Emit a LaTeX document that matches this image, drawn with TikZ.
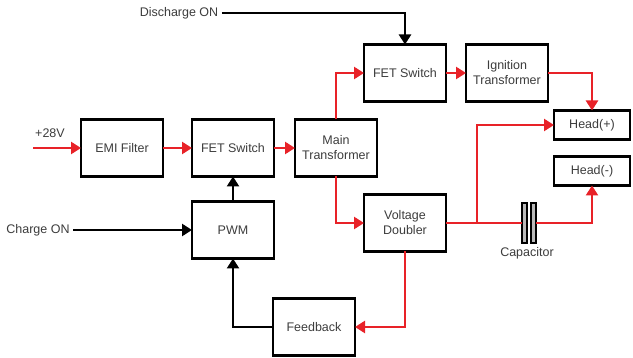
\documentclass[tikz,border=0pt]{standalone}
\usepackage{fontspec}
\setmainfont{Liberation Sans}
\usetikzlibrary{arrows.meta, positioning}
\definecolor{wirered}{RGB}{232,34,40}
\definecolor{labelgray}{RGB}{60,60,60}

\begin{document}
\begin{tikzpicture}[x=1pt, y=1pt,
    block/.style={draw, line width=2.6pt, minimum width=82pt, minimum height=57pt, outer sep=0pt, align=center, font=\fontsize{12.5}{15}\selectfont, text=labelgray},
    headbox/.style={draw, line width=2.6pt, minimum width=76pt, minimum height=29pt, outer sep=0pt, font=\fontsize{12.5}{15}\selectfont, text=labelgray},
    plate/.style={draw, line width=1.4pt, fill=gray!55, minimum width=5pt, minimum height=40pt, inner sep=0pt, outer sep=0pt},
    lbl/.style={font=\fontsize{12.5}{15}\selectfont, text=labelgray},
    pwr/.style={draw=wirered, line width=2.6pt, -{Triangle[length=10pt, width=12pt]}},
    ctl/.style={draw=black, line width=2.6pt, -{Triangle[length=10pt, width=12pt]}}
]
\useasboundingbox (0,0) rectangle (633,-358);

% Power path
\node[block] (emi) at (122,-148) {EMI Filter};
\node[block, right=29pt of emi] (fet1) {FET Switch};
\node[block, right=21pt of fet1] (main) {Main\\Transformer};

% Ignition branch
\node[block] (fet2) at (405,-73) {FET Switch};
\node[block, right=20pt of fet2] (ign) {Ignition\\Transformer};

% Heads
\node[headbox] (headp) at (592,-125) {Head(+)};
\node[headbox, below=17pt of headp] (headm) {Head(-)};

% Control
\node[block] (pwm) at (233,-230) {PWM};
\node[block] (vd) at (405,-223) {Voltage\\Doubler};
\node[block] (fb) at (314,-327) {Feedback};

% Capacitor
\node[plate] (capl) at (524.5,-223) {};
\node[plate, right=4pt of capl] (capr) {};
\node[lbl, below=1pt of capl.south east] (caplbl) {Capacitor};

% Labels
\node[lbl] (vlbl) at (50,-133) {+28V};
\coordinate (vin) at (33,-148);
\node[lbl] (chg) at (38,-230) {Charge ON};
\node[lbl] (dis) at (179,-13) {Discharge ON};
\coordinate (tap) at (477,-223);

% Red connectors
\draw[pwr] (vin) -- (emi);
\draw[pwr] (emi) -- (fet1);
\draw[pwr] (fet1) -- (main);
\draw[pwr] (main.north) |- (fet2.west);
\draw[pwr] (fet2) -- (ign);
\draw[pwr] (ign.east) -| (headp.north);
\draw[pwr] (main.south) |- (vd.west);
\draw[wirered, line width=2.6pt] (vd.east) -- (capl.west);
\draw[pwr] (tap) |- (headp.west);
\draw[pwr] (capr.east) -| (headm.south);
\draw[pwr] (vd.south) |- (fb.east);

% Black connectors
\draw[ctl] (fb.west) -| (pwm.south);
\draw[ctl] (pwm) -- (fet1);
\draw[ctl] (chg.east |- pwm.west) -- (pwm.west);
\draw[ctl] (dis.east) -| (fet2.north);

\end{tikzpicture}
\end{document}
